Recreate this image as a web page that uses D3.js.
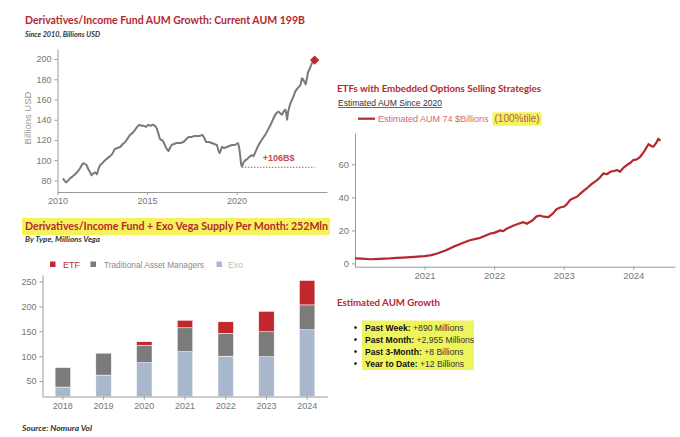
<!DOCTYPE html>
<html>
<head>
<meta charset="utf-8">
<script src="https://cdn.jsdelivr.net/npm/d3@7"></script>
<style>
  body { margin: 0; background: #fff; }
  svg text { font-family: "Liberation Sans", Arial, sans-serif; }
  .title { font-family: Lato, "Open Sans", sans-serif; font-weight: bold; fill: #b5282e; }
  .sub { font-family: Lato, "Open Sans", sans-serif; font-style: italic; font-weight: bold; fill: #333; }
  .axis path, .axis line { stroke: #9a9a9a; }
  .axis text { fill: #777; }
</style>
</head>
<body>
<div id="chart"></div>
<script>
// top left: derivatives/income fund AUM (billions USD)
const fundYears = [2010.30, 2010.38, 2010.48, 2010.6, 2010.7, 2010.85, 2010.98, 2011.1, 2011.26, 2011.38,
    2011.45, 2011.55, 2011.63, 2011.72, 2011.82, 2011.9, 2012.0, 2012.1, 2012.2, 2012.3,
    2012.38, 2012.5, 2012.66, 2012.8, 2012.94, 2013.05, 2013.2, 2013.35, 2013.5, 2013.65,
    2013.78, 2013.9, 2014.05, 2014.2, 2014.33, 2014.45, 2014.58, 2014.7, 2014.8, 2014.95,
    2015.08, 2015.2, 2015.3, 2015.45, 2015.55, 2015.64, 2015.7, 2015.77, 2015.85, 2015.92,
    2016.0, 2016.07, 2016.2, 2016.3, 2016.38, 2016.5, 2016.66, 2016.85, 2017.04, 2017.2,
    2017.32, 2017.5, 2017.65, 2017.78, 2017.95, 2018.1, 2018.2, 2018.3, 2018.45, 2018.62,
    2018.75, 2018.9, 2018.98, 2019.05, 2019.18, 2019.3, 2019.46, 2019.6, 2019.74, 2019.9,
    2020.08, 2020.15, 2020.2, 2020.25, 2020.3, 2020.4, 2020.5, 2020.58, 2020.7, 2020.86,
    2020.95, 2021.05, 2021.15, 2021.23, 2021.4, 2021.6, 2021.75, 2021.9, 2022.05, 2022.16,
    2022.25, 2022.35, 2022.45, 2022.54, 2022.62, 2022.72, 2022.78, 2022.82, 2022.88, 2023.0,
    2023.1, 2023.2, 2023.28, 2023.4, 2023.5, 2023.56, 2023.65, 2023.72, 2023.8, 2023.86,
    2023.92, 2023.99, 2024.1, 2024.21, 2024.3, 2024.36];
const fundAum = [82, 80, 78, 80, 82, 84, 86, 88, 92, 96,
    97, 96, 95, 91, 88, 85, 87, 88, 86, 92,
    95, 97, 100, 102, 104, 106, 111, 112, 113, 116,
    118, 121, 125, 127, 130, 133, 135, 134, 134, 133,
    135, 134, 135, 134, 131, 126, 122, 120, 120, 118,
    115, 112, 109, 113, 115, 116, 117, 117, 118, 121,
    123, 123, 124, 124, 124, 125, 122, 118, 118, 117,
    116, 115, 110, 107, 113, 112, 113, 114, 115, 115,
    117, 112, 105, 96, 94, 98, 100, 101, 103, 105,
    104, 108, 112, 115, 120, 125, 130, 135, 141, 145,
    147, 148, 146, 145, 148, 150, 146, 140, 148, 156,
    160, 164, 168, 171, 173, 174, 181, 180, 177, 175,
    180, 187, 191, 196, 198, 199];
const fundTicksX = [2010, 2015, 2020];
const fundTicksY = [80, 100, 120, 140, 160, 180, 200];
const fundLow = 93;
const fundLowFrom = 2020.3;

// right: ETFs with embedded options selling, estimated AUM (billions)
const etfYears = [2020.0, 2020.1, 2020.22, 2020.35, 2020.5, 2020.6, 2020.75, 2020.9, 2021.0, 2021.1,
    2021.18, 2021.3, 2021.41, 2021.53, 2021.65, 2021.8, 2021.94, 2022.0, 2022.09, 2022.13,
    2022.18, 2022.28, 2022.35, 2022.42, 2022.47, 2022.55, 2022.61, 2022.66, 2022.71, 2022.78,
    2022.84, 2022.9, 2022.96, 2023.0, 2023.05, 2023.09, 2023.14, 2023.19, 2023.26, 2023.33,
    2023.4, 2023.48, 2023.52, 2023.57, 2023.62, 2023.67, 2023.72, 2023.77, 2023.81, 2023.86,
    2023.91, 2023.96, 2024.0, 2024.05, 2024.1, 2024.16, 2024.22, 2024.26, 2024.29, 2024.33,
    2024.36, 2024.39];
const etfAum = [3.0, 2.9, 2.5, 2.8, 3.1, 3.4, 3.7, 4.1, 4.4, 5.0,
    6.0, 7.8, 10, 12, 14, 15.5, 18, 18.5, 20, 19.5,
    21, 23, 24, 25, 24, 26, 28.5, 29, 28.3, 28,
    30, 33, 34, 34.3, 36, 38.4, 39.5, 40.4, 43, 45.4,
    48, 50.5, 52, 54.5, 54, 55.5, 56, 56.5, 55.5, 58,
    59.6, 61, 62.6, 63, 64.6, 68, 72.3, 71, 70.7, 73,
    75.5, 74.3];
const etfCurrent = 74;
const etfTicksX = [2021, 2022, 2023, 2024];
const etfTicksY = [0, 20, 40, 60];

// bottom left: vega supply per month by type (millions vega)
const vegaYears = ['2018', '2019', '2020', '2021', '2022', '2023', '2024'];
const vegaExo = [38, 62, 87, 109, 100, 99, 153];
const vegaTam = [39, 44, 35, 48, 46, 50, 50];
const vegaEtf = [0, 0, 7, 15, 23, 41, 49];
const vegaTicksY = [50, 100, 150, 200, 250];

const growthLabels = ['Past Week:', 'Past Month:', 'Past 3-Month:', 'Year to Date:'];
const growthValues = ['+890 Millions', '+2,955 Millions', '+8 Billions', '+12 Billions'];

const red = '#b5282e';
const svg = d3.select('#chart')
    .append('svg')
    .attr('width', 680)
    .attr('height', 437);

function title(x, y, text, size, len) {
    return svg.append('text').attr('class', 'title')
        .attr('x', x).attr('y', y)
        .attr('font-size', size)
        .attr('textLength', len).attr('lengthAdjust', 'spacingAndGlyphs')
        .text(text);
}

function sub(x, y, text, size, len) {
    return svg.append('text').attr('class', 'sub')
        .attr('x', x).attr('y', y)
        .attr('font-size', size)
        .attr('textLength', len).attr('lengthAdjust', 'spacingAndGlyphs')
        .text(text);
}

//---- chart 1: fund AUM
title(25, 24, 'Derivatives/Income Fund AUM Growth: Current AUM 199B', 10.5, 280);
sub(25, 36.5, 'Since 2010, Billions USD', 8, 75);

const x1 = d3.scaleLinear().domain([2010, 2025.05]).range([57.5, 327]);
const y1 = d3.scaleLinear().domain([68.5, 210]).range([192, 49]);

svg.append('g').attr('class', 'axis')
    .attr('transform', 'translate(0,192)')
    .call(d3.axisBottom(x1).tickValues(fundTicksX).tickFormat(d3.format('d')).tickSize(3).tickSizeOuter(0))
    .selectAll('text').attr('font-size', 9);

svg.append('g').attr('class', 'axis')
    .attr('transform', 'translate(57.5,0)')
    .call(d3.axisLeft(y1).tickValues(fundTicksY).tickSize(3).tickSizeOuter(0))
    .selectAll('text').attr('font-size', 9);

svg.append('text')
    .attr('transform', 'translate(31,118) rotate(-90)')
    .attr('text-anchor', 'middle')
    .attr('font-size', 9.5)
    .attr('fill', '#999')
    .text('Billions USD');

svg.append('line')
    .attr('x1', x1(fundLowFrom)).attr('x2', x1(fundYears[fundYears.length - 1]))
    .attr('y1', y1(fundLow)).attr('y2', y1(fundLow))
    .attr('stroke', '#c8474d').attr('stroke-width', 1.2)
    .attr('stroke-dasharray', '1.5,1.5');

svg.append('text')
    .attr('x', x1(2022.35)).attr('y', y1(fundLow) - 6)
    .attr('text-anchor', 'middle')
    .attr('font-size', 9).attr('font-weight', 'bold')
    .attr('fill', '#c8474d')
    .text('+' + (fundAum[fundAum.length - 1] - fundLow) + 'B$');

svg.append('path')
    .datum(fundYears)
    .attr('fill', 'none')
    .attr('stroke', '#7a7a7a')
    .attr('stroke-width', 2)
    .attr('stroke-linejoin', 'round')
    .attr('d', d3.line().x(d => x1(d)).y((d, i) => y1(fundAum[i])));

svg.append('path')
    .attr('transform', `translate(${x1(fundYears[fundYears.length - 1])},${y1(fundAum[fundAum.length - 1])})`)
    .attr('d', d3.symbol(d3.symbolDiamond2, 55)())
    .attr('fill', '#c0282d');

//---- chart 2: ETF AUM
title(337, 91.5, 'ETFs with Embedded Options Selling Strategies', 10, 204);
svg.append('text')
    .attr('x', 338).attr('y', 105.5)
    .attr('font-size', 9)
    .attr('fill', '#333')
    .attr('font-family', 'Lato, sans-serif')
    .attr('textLength', 104).attr('lengthAdjust', 'spacingAndGlyphs')
    .text('Estimated AUM Since 2020');
svg.append('line')
    .attr('x1', 338).attr('x2', 442).attr('y1', 107.5).attr('y2', 107.5)
    .attr('stroke', '#444').attr('stroke-width', 0.8);

svg.append('line')
    .attr('x1', 358).attr('x2', 375).attr('y1', 118.7).attr('y2', 118.7)
    .attr('stroke', red).attr('stroke-width', 2.2);
svg.append('text')
    .attr('x', 378).attr('y', 122.3)
    .attr('font-size', 9)
    .attr('fill', '#d46a72')
    .text('Estimated AUM ' + etfCurrent + ' $Billions');
svg.append('rect')
    .attr('x', 492.5).attr('y', 112.3).attr('width', 49).attr('height', 13.5)
    .attr('rx', 2)
    .attr('fill', '#f3f35a');
svg.append('text')
    .attr('x', 494.5).attr('y', 122.3)
    .attr('font-size', 10)
    .attr('fill', '#b8575c')
    .text('(100%tile)');

const x2 = d3.scaleLinear().domain([2020, 2024.6]).range([355, 675]);
const y2 = d3.scaleLinear().domain([-2, 79]).range([266.7, 133]);

svg.append('g').attr('class', 'axis')
    .attr('transform', 'translate(0,266.7)')
    .call(d3.axisBottom(x2).tickValues(etfTicksX).tickFormat(d3.format('d')).tickSize(3).tickSizeOuter(0))
    .selectAll('text').attr('font-size', 9.5);

svg.append('g').attr('class', 'axis')
    .attr('transform', 'translate(355,0)')
    .call(d3.axisLeft(y2).tickValues(etfTicksY).tickSize(3).tickSizeOuter(0))
    .selectAll('text').attr('font-size', 9.5);

svg.append('path')
    .datum(etfYears)
    .attr('fill', 'none')
    .attr('stroke', red)
    .attr('stroke-width', 2.2)
    .attr('stroke-linejoin', 'round')
    .attr('d', d3.line().x(d => x2(d)).y((d, i) => y2(etfAum[i])));

//---- chart 3: vega supply
svg.append('rect')
    .attr('x', 22).attr('y', 218).attr('width', 308).attr('height', 17)
    .attr('fill', '#f5f35c');
title(25, 229.8, 'Derivatives/Income Fund + Exo Vega Supply Per Month: ' + d3.sum([vegaExo[6], vegaTam[6], vegaEtf[6]]) + 'Mln', 10.5, 303);
sub(25, 241.5, 'By Type, Millions Vega', 8, 75);

const vegaColors = { 'Exo': '#a9b8cc', 'Traditional Asset Managers': '#7b7b7b', 'ETF': '#c0282d' };
const vegaRows = vegaYears.map((d, i) => ({
    year: d, 'Exo': vegaExo[i], 'Traditional Asset Managers': vegaTam[i], 'ETF': vegaEtf[i]
}));
const stack = d3.stack().keys(['Exo', 'Traditional Asset Managers', 'ETF'])(vegaRows);

const x3 = d3.scaleBand().domain(vegaYears).range([42.5, 327.5]).paddingInner(0.62).paddingOuter(0.31);
const y3 = d3.scaleLinear().domain([19, 263]).range([396.5, 275]);

svg.append('g')
    .selectAll('g')
    .data(stack)
    .join('g').attr('fill', d => vegaColors[d.key])
    .selectAll('rect')
    .data(d => d)
    .join('rect')
    .attr('x', d => x3(d.data.year))
    .attr('width', x3.bandwidth())
    .attr('y', d => y3(d[1]))
    .attr('height', d => Math.max(0, y3(Math.max(d[0], 19)) - y3(d[1])))
    .attr('stroke', '#fff').attr('stroke-width', 0.5);

svg.append('g').attr('class', 'axis')
    .attr('transform', 'translate(0,396.5)')
    .call(d3.axisBottom(x3).tickSize(3).tickSizeOuter(0))
    .selectAll('text').attr('font-size', 9);

svg.append('g').attr('class', 'axis')
    .attr('transform', 'translate(42.5,0)')
    .call(d3.axisLeft(y3).tickValues(vegaTicksY).tickSize(3).tickSizeOuter(0))
    .selectAll('text').attr('font-size', 9);

const legend = [
    { key: 'ETF', x: 50, tx: 63, len: 17, color: '#c0282d' },
    { key: 'Traditional Asset Managers', x: 90.5, tx: 104, len: 100, color: '#8a8a8a' },
    { key: 'Exo', x: 216.5, tx: 228, len: 15, color: '#bcbcbc' }
];
svg.append('g')
    .selectAll('rect')
    .data(legend)
    .join('rect')
    .attr('x', d => d.x).attr('y', 261.5)
    .attr('width', 5.5).attr('height', 5.5)
    .attr('fill', d => vegaColors[d.key]);
svg.append('g')
    .selectAll('text')
    .data(legend)
    .join('text')
    .attr('x', d => d.tx).attr('y', 267.5)
    .attr('font-size', 9.5)
    .attr('fill', d => d.color)
    .attr('textLength', d => d.len).attr('lengthAdjust', 'spacingAndGlyphs')
    .text(d => d.key);

sub(22, 430.5, 'Source: Nomura Vol', 8, 70);

//---- growth block
title(337, 306.3, 'Estimated AUM Growth', 10, 103);

svg.append('rect')
    .attr('x', 362).attr('y', 320.5).attr('width', 112).attr('height', 49.5)
    .attr('fill', '#eef45e');

const rows = svg.append('g')
    .selectAll('text')
    .data(growthLabels)
    .join('text')
    .attr('x', 365)
    .attr('y', (d, i) => 330.8 + i * 12)
    .attr('font-family', 'Lato, sans-serif')
    .attr('font-size', 8.6)
    .attr('fill', '#111');
rows.append('tspan').attr('font-weight', 'bold').text(d => d);
rows.append('tspan').attr('fill', '#333').text((d, i) => ' ' + growthValues[i]);

svg.append('g')
    .selectAll('circle')
    .data(growthLabels)
    .join('circle')
    .attr('cx', 355.5)
    .attr('cy', (d, i) => 327.6 + i * 12)
    .attr('r', 1.3)
    .attr('fill', '#111');
</script>
</body>
</html>
